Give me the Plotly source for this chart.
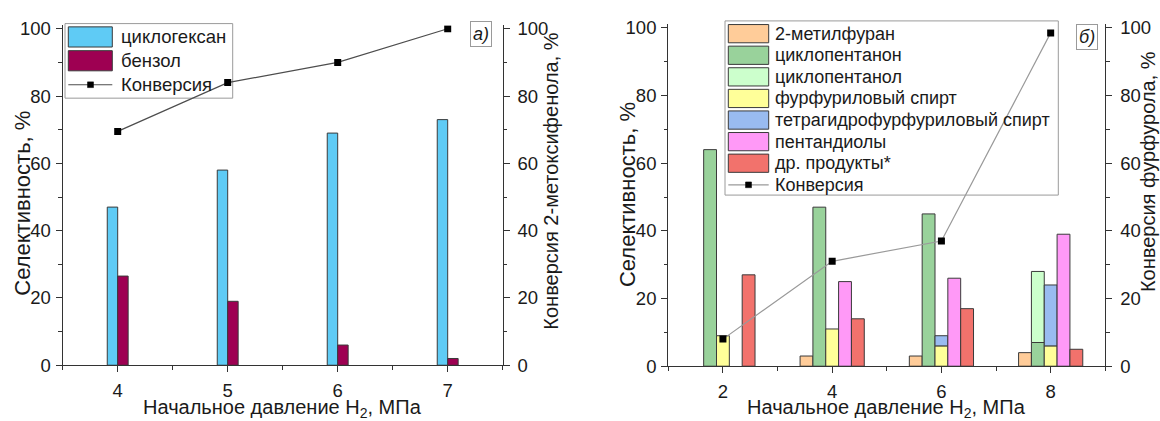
import plotly.graph_objects as go

W, H = 1160, 421

# ---------------- data: panel a) ----------------
p_a = [4, 5, 6, 7]
cyclohexane = [47, 58, 69, 73]
benzene = [26.5, 19, 6, 2]
conv_a = [69.5, 84, 90, 100]

# ---------------- data: panel б) ----------------
p_b = [2, 4, 6, 8]
methylfuran = [None, 3, 3, 4]
cyclopentanone = [64, 47, 45, 7]
cyclopentanol = [None, None, None, 21]      # stacked on cyclopentanone
furfuryl = [9, 11, 6, 6]
thfa = [None, None, 3, 18]                  # stacked on furfuryl alcohol
pentanediols = [None, 25, 26, 39]
others = [27, 14, 17, 5]
conv_b = [8, 31, 37, 98.5]

names_b = ["2-метилфуран", "циклопентанон", "циклопентанол", "фурфуриловый спирт",
           "тетрагидрофурфуриловый спирт", "пентандиолы", "др. продукты*"]
colors_b = ["#FFCC99", "#99D29B", "#CCFFCC", "#FFFF99", "#99BBF0", "#FF99F7", "#F2726C"]
names_a = ["циклогексан", "бензол"]
colors_a = ["#5FCBF5", "#9E0052"]

FONT = "Liberation Sans, Arial, sans-serif"
TXT = "#1a1a1a"
AX = "#333333"
EDGE = "#3a3a3a"


def px(x):
    return x / W


def py(y):
    return 1 - y / H


fig = go.Figure()

# panel a bars
wa = 0.095
fig.add_trace(go.Bar(x=p_a, y=cyclohexane, width=wa, offset=-wa, marker=dict(color=colors_a[0], line=dict(color=EDGE, width=1)),
                     name=names_a[0], xaxis="x", yaxis="y", showlegend=False))
fig.add_trace(go.Bar(x=p_a, y=benzene, width=wa, offset=0, marker=dict(color=colors_a[1], line=dict(color=EDGE, width=1)),
                     name=names_a[1], xaxis="x", yaxis="y", showlegend=False))
fig.add_trace(go.Scatter(x=p_a, y=conv_a, mode="lines+markers", name="Конверсия",
                         line=dict(color="#4d4d4d", width=1.2),
                         marker=dict(symbol="square", size=7, color="black"),
                         xaxis="x", yaxis="y2", showlegend=False))

# panel b bars
wb = 0.235
series_b = [
    (methylfuran, None, -2.5),
    (cyclopentanone, None, -1.5),
    (cyclopentanol, cyclopentanone, -1.5),
    (furfuryl, None, -0.5),
    (thfa, furfuryl, -0.5),
    (pentanediols, None, 0.5),
    (others, None, 1.5),
]
for (vals, base, off), nm, col in zip(series_b, names_b, colors_b):
    kw = dict(base=base) if base is not None else {}
    fig.add_trace(go.Bar(x=p_b, y=vals, width=wb, offset=off * wb, name=nm,
                         marker=dict(color=col, line=dict(color=EDGE, width=1)),
                         xaxis="x2", yaxis="y3", showlegend=False, **kw))
fig.add_trace(go.Scatter(x=p_b, y=conv_b, mode="lines+markers", name="Конверсия",
                         line=dict(color="#9a9a9a", width=1.2),
                         marker=dict(symbol="square", size=7, color="black"),
                         xaxis="x2", yaxis="y4", showlegend=False))

tickfont = dict(family=FONT, size=18.5, color=TXT)


def xax(domain, rng, tv, minor_dtick, anchor):
    return dict(domain=domain, range=rng, tickvals=tv, ticks="outside", ticklen=6, tickwidth=1.3,
                tickcolor=AX, showline=True, linecolor=AX, linewidth=1.3, showgrid=False,
                zeroline=False, tickfont=tickfont, anchor=anchor, ticklabelstandoff=2,
                minor=dict(ticks="outside", ticklen=3.5, tickwidth=1.2, tickcolor=AX,
                           dtick=minor_dtick, tick0=rng[0], showgrid=False))


def yax(domain, anchor, side="left", overlaying=None):
    d = dict(domain=domain, range=[0, 101], tickvals=[0, 20, 40, 60, 80, 100], ticks="outside",
             ticklen=6, tickwidth=1.3, tickcolor=AX, showline=True, linecolor=AX, linewidth=1.3,
             showgrid=False, zeroline=False, tickfont=tickfont, anchor=anchor, side=side,
             ticklabelstandoff=(4 if side == "right" else 1),
             minor=dict(ticks="outside", ticklen=3.5, tickwidth=1.2, tickcolor=AX, dtick=10, tick0=0,
                        showgrid=False))
    if overlaying:
        d["overlaying"] = overlaying
    return d


ydom_a = [py(373.3), py(373.3 - 101 * 3.506)]
ydom_b = [py(374.3), py(374.3 - 101 * 3.526)]

fig.update_layout(
    width=W, height=H, autosize=False,
    margin=dict(l=0, r=0, t=0, b=0),
    paper_bgcolor="white", plot_bgcolor="rgba(0,0,0,0)",
    barmode="overlay",
    font=dict(family=FONT, color=TXT),
    xaxis=xax([px(62.7), px(502.7)], [3.5, 7.5], p_a, 0.5, "y"),
    yaxis=yax(ydom_a, "x"),
    yaxis2=yax(ydom_a, "x", side="right", overlaying="y"),
    xaxis2=xax([px(668.3), px(1105.3)], [1, 9], p_b, 1, "y3"),
    yaxis3=yax(ydom_b, "x2"),
    yaxis4=yax(ydom_b, "x2", side="right", overlaying="y3"),
)

shapes = []
annots = []


def text(x, y, s, size=18.5, anchor="left", angle=0, **kw):
    annots.append(dict(x=px(x), y=py(y), xref="paper", yref="paper", text=s, showarrow=False,
                       xanchor=anchor, yanchor="middle", textangle=angle,
                       font=dict(family=FONT, size=size, color=TXT), **kw))


# axis titles
title_x = "Начальное давление H<sub>2</sub>, МПа"
text(282.7, 418, title_x, size=20, anchor="center")
text(886.8, 418, title_x, size=20, anchor="center")
text(23, 205, "Селективность, %", size=22, anchor="center", angle=-90)
text(551, 182, "Конверсия 2-метоксифенола, %", size=20, anchor="center", angle=-90)
text(627, 196, "Селективность, %", size=22, anchor="center", angle=-90)
text(1148, 172, "Конверсия фурфурола, %", size=20, anchor="center", angle=-90)

# panel labels
text(481.3, 27.8, "<i>a)</i>", size=18, anchor="center", bordercolor="#9a9a9a", borderwidth=1, borderpad=2)
text(1087, 31.2, "<i>б)</i>", size=18, anchor="center", bordercolor="#9a9a9a", borderwidth=1, borderpad=2)


def rect(x0, y0, x1, y1, fill, line="#3a3a3a", lw=1, layer="above"):
    shapes.append(dict(type="rect", xref="paper", yref="paper", x0=px(x0), x1=px(x1), y0=py(y1), y1=py(y0),
                       fillcolor=fill, line=dict(color=line, width=lw), layer=layer))


def hline(x0, x1, y, color, lw=1.2):
    shapes.append(dict(type="line", xref="paper", yref="paper", x0=px(x0), x1=px(x1), y0=py(y), y1=py(y),
                       line=dict(color=color, width=lw), layer="above"))


# legend a)
rect(65, 17.3, 232.7, 95, "white", line="#9a9a9a", layer="below")
rows_a = [31.2, 56, 81]
for yy, nm, col in zip(rows_a[:2], names_a, colors_a):
    rect(68.3, yy - 10.5, 112.3, yy + 10.5, col)
    text(119.3, yy, nm, size=18.5)
hline(68.3, 112.3, rows_a[2], "#4d4d4d")
rect(87.5, rows_a[2] - 3, 93.5, rows_a[2] + 3, "black", line="black", lw=0.5)
text(119.3, rows_a[2], "Конверсия", size=18.5)

# legend б)
rect(725, 14.5, 1058.3, 196, "white", line="#9a9a9a", layer="below")
rows_b = [27.8 + 22.5 * i for i in range(8)]
for yy, nm, col in zip(rows_b[:7], names_b, colors_b):
    rect(728.3, yy - 9.5, 768.7, yy + 9.5, col)
    text(773.3, yy, nm, size=18)
hline(728.3, 768.7, rows_b[7], "#9a9a9a")
rect(745.5, rows_b[7] - 3, 751.5, rows_b[7] + 3, "black", line="black", lw=0.5)
text(773.3, rows_b[7], "Конверсия", size=18)

fig.update_layout(shapes=shapes, annotations=annots)

fig.write_html("out.html")
